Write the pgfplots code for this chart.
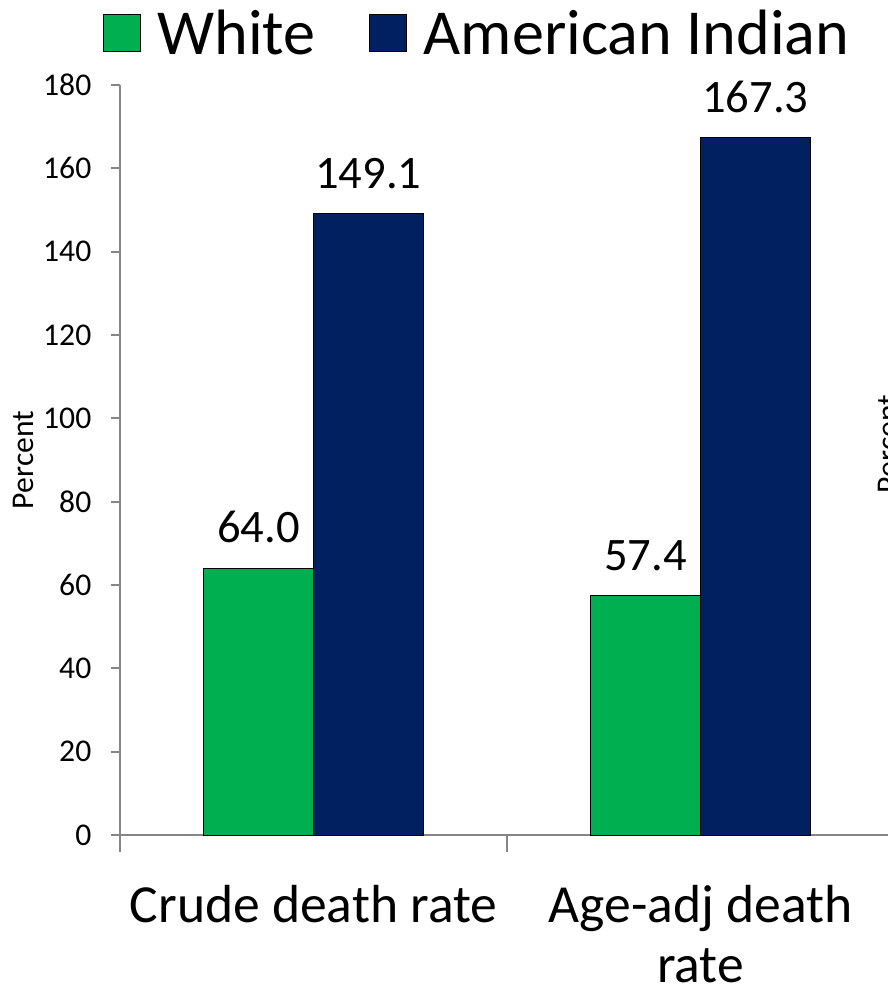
\documentclass[border=0pt]{standalone}
\usepackage{pgfplots}
\pgfplotsset{compat=1.18}
\usepackage{fontspec}
\setmainfont{Carlito}
\definecolor{wgreen}{HTML}{00B050}
\definecolor{ainavy}{HTML}{002060}
\definecolor{axgray}{HTML}{868686}

\begin{document}
\begin{tikzpicture}
\useasboundingbox (-2.4,-3.04) rectangle (15.36,16.7);
\begin{axis}[
  scale only axis,
  width=15.36cm, height=15cm,
  clip=false,
  ybar=0pt, bar width=0.284,
  xmin=-0.5, xmax=1.4845,
  ymin=0, ymax=180,
  ytick={0,20,...,180},
  xtick={0,1},
  xticklabels={Crude death rate, Age-adj death\\rate},
  axis lines*=left,
  axis line style={axgray, line width=0.04cm},
  tick align=outside,
  major tick length=0.18cm,
  ytick style={axgray, line width=0.04cm},
  xtick style={draw=none},
  /pgf/number format/assume math mode=true,
  yticklabel style={font=\fontsize{18}{20}\selectfont, xshift=-0.27cm},
  xticklabel style={font=\fontsize{30.5}{34}\selectfont, align=center, yshift=-0.7cm},
  ylabel={Percent},
  ylabel style={at={(axis description cs:-0.126,0.5)}, anchor=center, font=\fontsize{18}{20}\selectfont},
  legend style={at={(0.466,1.069)}, anchor=center, draw=none, fill=none,
    legend columns=2, font=\fontsize{36.5}{40}\selectfont,
    /tikz/every odd column/.append style={column sep=0.26cm},
    /tikz/every even column/.append style={column sep=1.0cm}},
  legend image code/.code={\draw[#1, draw=black, line width=0.02cm] (0cm,-0.37cm) rectangle (0.74cm,0.37cm);},
  nodes near coords={\pgfmathprintnumber[fixed,fixed zerofill,precision=1,assume math mode=true]{\pgfplotspointmeta}},
  nodes near coords style={font=\fontsize{26.5}{29}\selectfont, text=black, yshift=0.38cm},
]
\addplot[fill=wgreen, draw=black, line width=0.02cm] coordinates {(0,64.0) (1,57.4)};
\addplot[fill=ainavy, draw=black, line width=0.02cm] coordinates {(0,149.1) (1,167.3)};
\legend{White, American Indian}
\draw[axgray, line width=0.04cm] (axis cs:-0.5,0) -- ([yshift=-0.34cm]axis cs:-0.5,0);
\draw[axgray, line width=0.04cm] (axis cs:0.5,0) -- ([yshift=-0.34cm]axis cs:0.5,0);
\end{axis}
\node[rotate=90, anchor=base, font=\fontsize{18}{20}\selectfont] at (15.56,7.82) {Percent};
\end{tikzpicture}
\end{document}
